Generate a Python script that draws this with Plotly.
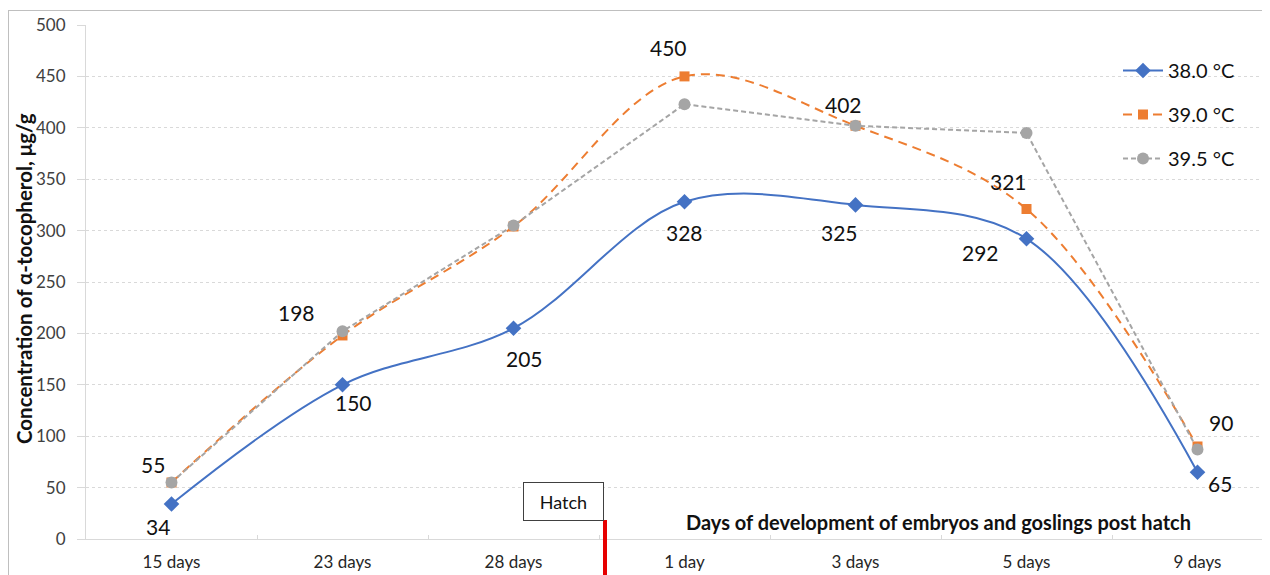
import plotly.graph_objects as go

categories = ["15 days", "23 days", "28 days", "1 day", "3 days", "5 days", "9 days"]
series_names = ["38.0 °C", "39.0 °C", "39.5 °C"]
t380 = [34, 150, 205, 328, 325, 292, 65]
t390 = [55, 198, 304, 450, 402, 321, 90]
t395 = [55, 202, 305, 423, 402, 395, 87]
y_ticks = [0, 50, 100, 150, 200, 250, 300, 350, 400, 450, 500]

FONT = "Lato"
fig = go.Figure()

fig.add_trace(go.Scatter(
    x=categories, y=t380, name=series_names[0], mode="lines+markers",
    line=dict(color="#4472C4", width=2, shape="spline", smoothing=1.0),
    marker=dict(symbol="diamond", size=12, color="#4472C4"),
    legendgroup="a"))
fig.add_trace(go.Scatter(
    x=categories, y=t390, name=series_names[1], mode="lines+markers",
    line=dict(color="#ED7D31", width=2, dash="9px,6px", shape="spline", smoothing=1.0),
    marker=dict(symbol="square", size=10, color="#ED7D31"),
    legendgroup="b"))
fig.add_trace(go.Scatter(
    x=categories, y=t395, name=series_names[2], mode="lines+markers",
    line=dict(color="#A5A5A5", width=2, dash="5px,3px"),
    marker=dict(symbol="circle", size=12, color="#A5A5A5"),
    legendgroup="c"))

# data labels: (series, index, xshift, yshift)
label_specs = [
    (t390, 0, -19, 18), (t380, 0, -14, -22),
    (t390, 1, -46, 23), (t380, 1, 11, -18),
    (t380, 2, 11, -30),
    (t390, 3, -16, 29), (t380, 3, 0, -31),
    (t390, 4, -12, 21), (t380, 4, -16, -28),
    (t390, 5, -18, 28), (t380, 5, -46, -14),
    (t390, 6, 23, 24), (t380, 6, 22, -11),
]
for s, i, dx, dy in label_specs:
    fig.add_annotation(x=categories[i], y=s[i], xref="x", yref="y", text=str(s[i]),
                       showarrow=False, xshift=dx, yshift=dy,
                       font=dict(family=FONT, size=21, color="#111111"))

# page body has an 8px margin; figure sized so it fills the 1270x575 window
OFF = 8
W, H = 1262, 567
L, R, T, B = 78, 0, 17, 36
pw, ph = W - L - R, H - T - B
def px(xa): return (xa - OFF - L) / pw
def py(ya): return (H - B - (ya - OFF)) / ph

# y-axis title
fig.add_annotation(x=px(24), y=py(279), xref="paper", yref="paper",
                   xanchor="center", yanchor="middle",
                   text="<b>Concentration of α-tocopherol, μg/g</b>", textangle=-90,
                   showarrow=False, font=dict(family=FONT, size=20.5, color="#111111"))
# x caption
fig.add_annotation(x=px(938), y=py(522), xref="paper", yref="paper",
                   xanchor="center", yanchor="middle",
                   text="<b>Days of development of embryos and goslings post hatch</b>",
                   showarrow=False, font=dict(family=FONT, size=20, color="#111111"))
# Hatch box
fig.add_annotation(x=px(563.5), y=py(501.5), xref="paper", yref="paper",
                   xanchor="center", yanchor="middle", text="Hatch",
                   showarrow=False, width=77, height=35, bordercolor="#404040",
                   borderwidth=1, bgcolor="white",
                   font=dict(family=FONT, size=18, color="#111111"))
# red hatch line
fig.add_shape(type="line", xref="paper", yref="paper", x0=px(605), x1=px(605),
              y0=py(520), y1=py(580), line=dict(color="#E60000", width=4))
# outer border
fig.add_shape(type="line", xref="paper", yref="paper", x0=px(8.5), x1=px(8.5),
              y0=py(10), y1=py(580), line=dict(color="#BFBFBF", width=1))
fig.add_shape(type="line", xref="paper", yref="paper", x0=px(8), x1=px(1275),
              y0=py(10.5), y1=py(10.5), line=dict(color="#BFBFBF", width=1))

fig.update_layout(
    width=W, height=H, margin=dict(l=L, r=R, t=T, b=B),
    paper_bgcolor="white", plot_bgcolor="white",
    font=dict(family=FONT, size=15, color="#404040"),
    legend=dict(x=px(1118), y=py(51), xanchor="left", yanchor="top",
                bgcolor="rgba(0,0,0,0)", tracegroupgap=15, itemwidth=40,
                font=dict(family=FONT, size=20, color="#111111")),
    xaxis=dict(categoryorder="array", categoryarray=categories,
               range=[-0.5, -0.5 + pw / 171.0], showgrid=False, zeroline=False,
               showline=True, linecolor="#D9D9D9", linewidth=1,
               ticks="inside", tickson="boundaries", ticklen=4, tickcolor="#D9D9D9",
               ticklabelstandoff=8,
               tickfont=dict(family=FONT, size=17, color="#262626")),
    yaxis=dict(range=[0, 500], tickvals=y_ticks, showgrid=True, gridcolor="#D9D9D9",
               griddash="dot", gridwidth=1, zeroline=False, showline=True,
               linecolor="#D9D9D9", ticks="outside", ticklen=8, tickcolor="#D9D9D9",
               ticklabelstandoff=8,
               tickfont=dict(family=FONT, size=17, color="#404040")),
)

fig.write_html("out.html")
